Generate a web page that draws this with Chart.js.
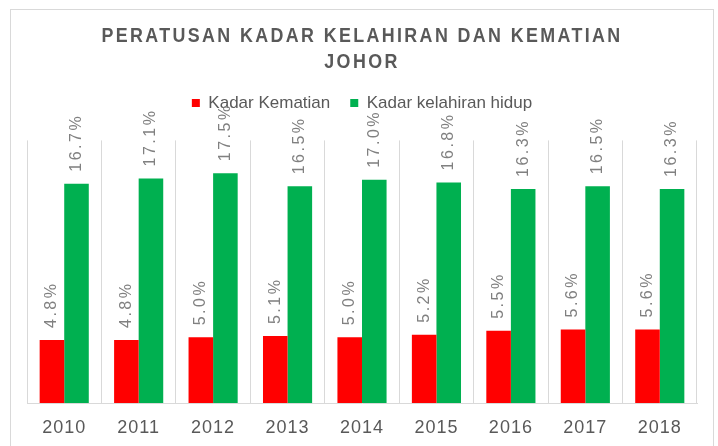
<!DOCTYPE html>
<html>
<head>
<meta charset="utf-8">
<script src="https://cdn.jsdelivr.net/npm/chart.js@4.4.1/dist/chart.umd.min.js"></script>
<style>
  html, body { margin: 0; padding: 0; background: #fff; }
  canvas { display: block; }
</style>
</head>
<body>
<canvas id="kadarChart" width="718" height="446"></canvas>
<script>
// Data
const tahun = ['2010', '2011', '2012', '2013', '2014', '2015', '2016', '2017', '2018'];
const kadarKematian = [4.8, 4.8, 5.0, 5.1, 5.0, 5.2, 5.5, 5.6, 5.6];
const kadarKelahiran = [16.7, 17.1, 17.5, 16.5, 17.0, 16.8, 16.3, 16.5, 16.3];

const fontUtama = '"Liberation Sans", Arial, sans-serif';

// Bingkai + jarak huruf label sumbu
const bingkai = {
    id: 'bingkai',
    beforeDraw(chart) {
        const ctx = chart.ctx;
        ctx.save();
        ctx.strokeStyle = '#d9d9d9';
        ctx.lineWidth = 1;
        ctx.strokeRect(10.5, 9.5, 703, 445);
        ctx.restore();
        ctx.letterSpacing = '1px';
    }
};

// Label nilai di atas bar (diputar)
const labelBar = {
    id: 'labelBar',
    afterDatasetsDraw(chart) {
        const ctx = chart.ctx;
        ctx.save();
        ctx.font = '16px ' + fontUtama;
        ctx.fillStyle = '#808080';
        ctx.letterSpacing = '2.5px';
        ctx.textAlign = 'left';
        ctx.textBaseline = 'middle';
        chart.data.datasets.forEach((ds, i) => {
            chart.getDatasetMeta(i).data.forEach((bar, j) => {
                ctx.save();
                ctx.translate(bar.x, bar.y - 12);
                ctx.rotate(-Math.PI / 2);
                ctx.fillText(ds.data[j].toFixed(1) + '%', 0, 0);
                ctx.restore();
            });
        });
        ctx.restore();
    }
};

const ctx = document.getElementById('kadarChart').getContext('2d');
const kadarChart = new Chart(ctx, {
    type: 'bar',
    data: {
        labels: tahun,
        datasets: [{
            label: 'Kadar Kematian',
            data: kadarKematian,
            backgroundColor: '#ff0000',
            borderWidth: 0
        }, {
            label: 'Kadar kelahiran hidup',
            data: kadarKelahiran,
            backgroundColor: '#00b050',
            borderWidth: 0
        }]
    },
    options: {
        responsive: false,
        animation: false,
        layout: {
            padding: { left: 27, right: 21, top: 0, bottom: 0 }
        },
        datasets: {
            bar: { categoryPercentage: 0.66, barPercentage: 1.0 }
        },
        plugins: {
            title: {
                display: true,
                text: ['PERATUSAN KADAR KELAHIRAN DAN KEMATIAN', 'JOHOR'],
                color: '#595959',
                font: { family: fontUtama, size: 21, weight: 'bold', lineHeight: 1.2 },
                padding: { top: 24, bottom: 0 }
            },
            legend: {
                display: true,
                labels: {
                    color: '#595959',
                    font: { family: fontUtama, size: 17 },
                    boxWidth: 8,
                    boxHeight: 8,
                    padding: 20
                }
            },
            tooltip: { enabled: false }
        },
        scales: {
            x: {
                grid: { display: true, color: '#d9d9d9', drawTicks: false, offset: true },
                border: { display: true, color: '#d9d9d9' },
                ticks: {
                    color: '#595959',
                    font: { family: fontUtama, size: 18 },
                    padding: 14
                },
                afterFit(scale) { scale.height = 43; }
            },
            xAtas: {
                type: 'category',
                position: 'top',
                grid: { display: false },
                border: { display: false },
                ticks: { display: false },
                afterFit(scale) { scale.height = 19; }
            },
            y: {
                display: false,
                min: 0,
                max: 20
            }
        }
    },
    plugins: [bingkai, labelBar]
});

// Judul: huruf lebih sempit dengan jarak huruf lebar
const gambarJudul = kadarChart.titleBlock.draw;
kadarChart.titleBlock.draw = function () {
    const c = this.ctx;
    const cx = (this.left + this.right) / 2;
    c.save();
    c.letterSpacing = '2.8px';
    c.translate(cx, 0);
    c.scale(0.85, 1);
    c.translate(-cx, 0);
    gambarJudul.apply(this, arguments);
    c.restore();
};
// Legenda tanpa jarak huruf
const gambarLegenda = kadarChart.legend.draw;
kadarChart.legend.draw = function () {
    this.ctx.save();
    this.ctx.letterSpacing = '0px';
    gambarLegenda.apply(this, arguments);
    this.ctx.restore();
};
kadarChart.draw();
</script>
</body>
</html>
